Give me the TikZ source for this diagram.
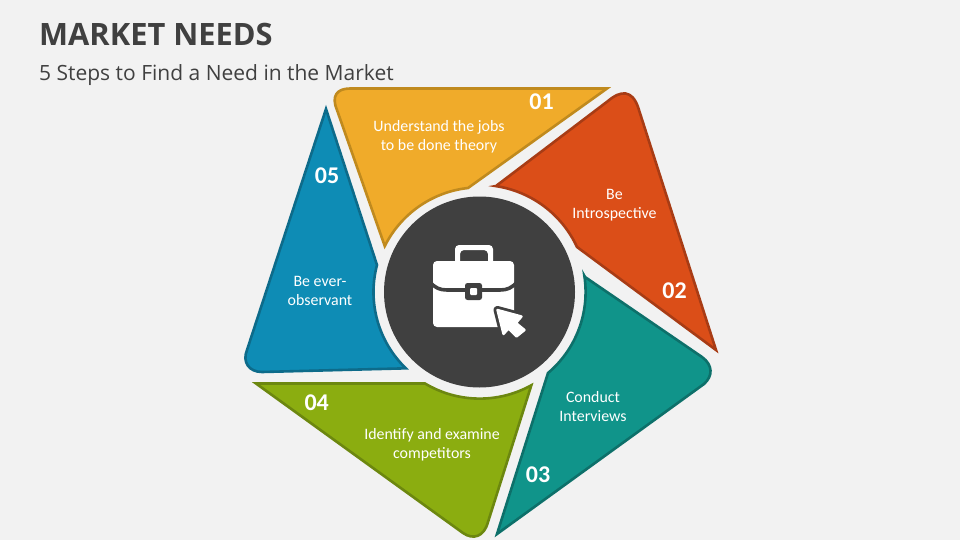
\documentclass[tikz,border=0pt]{standalone}
\usepackage{fontspec}
\setmainfont{Carlito}
\newfontfamily\headfont{Open Sans}
\definecolor{bgc}{HTML}{F2F2F2}
\definecolor{darkc}{HTML}{404040}
\definecolor{fa}{HTML}{F0AB2A}\definecolor{sa}{HTML}{C08A1E}
\definecolor{fb}{HTML}{DB4E18}\definecolor{sb}{HTML}{A83C15}
\definecolor{fc}{HTML}{10948A}\definecolor{sc}{HTML}{0D706A}
\definecolor{fd}{HTML}{8BAD10}\definecolor{sd}{HTML}{6C870F}
\definecolor{fe}{HTML}{0E8CB5}\definecolor{se}{HTML}{0D6B8A}
\tikzset{
  petal/.style={line width=2.6pt,line join=miter,miter limit=20},
  lab/.style={text=white,align=center,inner sep=0pt,font=\fontsize{15.9}{19}\selectfont},
  num/.style={text=white,inner sep=0pt,anchor=base,font=\fontsize{24}{24}\selectfont\bfseries},
}
\begin{document}
\begin{tikzpicture}[x=1pt,y=1pt,yscale=-1]
\path[use as bounding box,fill=bgc] (0,0) rectangle (960,540);
\node[anchor=base west,inner sep=0pt,text=darkc,font=\headfont\fontsize{30.8}{31}\selectfont\bfseries] (title) at (39,46) {MARKET NEEDS};
\node[anchor=base west,inner sep=0pt,text=darkc,font=\headfont\fontsize{21}{21}\selectfont] (sub) at (39,80.5) {5 Steps to Find a Need in the Market};
% petals
\draw[petal,fill=fa,draw=sa] (350,88.5) -- (607,88.5) -- (468,188) arc[start angle=263.7,end angle=206.5,radius=106] -- (337,110) .. controls (331,96) and (337,88.5) .. (350,88.5) -- cycle;
\draw[petal,fill=fb,draw=sb] (496,186) -- (608,101) .. controls (621,90) and (632,90) .. (638,107) -- (716,350) -- (577,247) arc[start angle=-24.8,end angle=-81.5,radius=107] -- cycle;
\draw[petal,fill=fc,draw=sc] (585,277) -- (702,357) .. controls (713,365) and (713,376) .. (704,384) -- (497,534) -- (548,373) arc[start angle=49.8,end angle=-8.8,radius=106] -- cycle;
\draw[petal,fill=fd,draw=sd] (256,383.5) -- (425,383.5) arc[start angle=120.9,end angle=61,radius=106.5] -- (488,522) .. controls (484,537) and (473,540) .. (463,533) -- cycle;
\draw[petal,fill=fe,draw=se] (326,109) -- (377,265) arc[start angle=194.8,end angle=134,radius=106] -- (262,372) .. controls (249,372) and (242,362) .. (247,350) -- cycle;
% centre
\fill[darkc] (479.5,292) circle[radius=95.5];
% briefcase
\fill[white,even odd rule,rounded corners=4pt] (455,265) -- (455,245) -- (493,245) -- (493,265) -- cycle (460,265) -- (460,250) -- (488,250) -- (488,265) -- cycle;
\fill[white,rounded corners=4pt] (433,261) rectangle (514,327);
\draw[darkc,line width=3.6pt] (430,282) .. controls (435,288) and (440,290) .. (447,290) -- (500,290) .. controls (507,290) and (512,288) .. (517,282);
\fill[darkc,rounded corners=2.5pt] (465,283) rectangle (482,300);
\fill[white,rounded corners=1pt] (470,288) rectangle (477,295);
% cursor
\draw[darkc,fill=darkc,line width=8pt,line join=round] (497.5,310) -- (521.5,316.5) -- (516,323) -- (524.5,330) -- (516.5,336.5) -- (508.5,328.5) -- (503.5,334) -- cycle;
\draw[white,fill=white,line width=2.4pt,line join=round] (497.5,310) -- (521.5,316.5) -- (516,323) -- (524.5,330) -- (516.5,336.5) -- (508.5,328.5) -- (503.5,334) -- cycle;
% labels
\node[lab] (la) at (439,136.5) {Understand the jobs\\to be done theory};
\node[lab] (lb) at (614.5,205) {Be\\Introspective};
\node[lab] (lc) at (593,407) {Conduct\\Interviews};
\node[lab] (ld) at (432,445) {Identify and examine\\competitors};
\node[lab] (le) at (320,291) {Be ever-\\observant};
\node[num] (na) at (541.5,110) {01};
\node[num] (nb) at (674.5,298) {02};
\node[num] (nc) at (538,482) {03};
\node[num] (nd) at (316.7,410) {04};
\node[num] (ne) at (327,183) {05};
\end{tikzpicture}
\end{document}
